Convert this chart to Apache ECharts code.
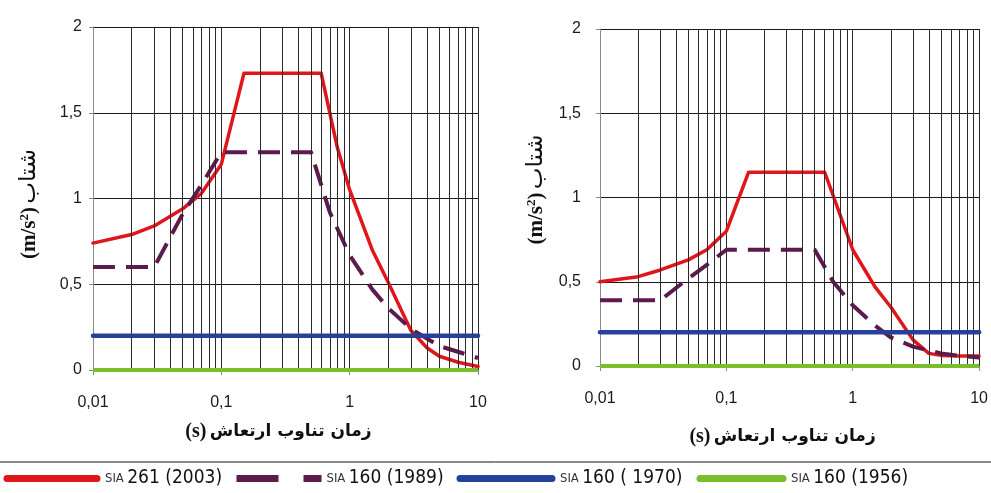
<!DOCTYPE html>
<html><head><meta charset="utf-8">
<script src="https://cdn.jsdelivr.net/npm/echarts@6/dist/echarts.min.js"></script>
<style>html,body{margin:0;padding:0;background:#fff}#c{width:991px;height:493px}</style>
</head><body><div id="c"></div>
<script>
// ---------- data ----------
const seriesNames = ['SIA 261 (2003)', 'SIA 160 (1989)', 'SIA 160 ( 1970)', 'SIA 160 (1956)'];
const xTickValues = [0.01, 0.1, 1, 10];
const xTickLabels = ['0,01', '0,1', '1', '10'];
const yTickValues = [0, 0.5, 1, 1.5, 2];
const yTickLabels = ['0', '0,5', '1', '1,5', '2'];
const minorPeriods = [0.02,0.03,0.04,0.05,0.06,0.07,0.08,0.09,0.2,0.3,0.4,0.5,0.6,0.7,0.8,0.9,2,3,4,5,6,7,8,9];

// left panel
const leftT2003 = [0.01, 0.02, 0.03, 0.05, 0.07, 0.1, 0.15, 0.6, 0.8, 1, 1.5, 2, 3, 4, 5, 7, 10];
const leftA2003 = [0.74, 0.79, 0.84, 0.94, 1.03, 1.20, 1.73, 1.73, 1.30, 1.05, 0.70, 0.51, 0.23, 0.13, 0.08, 0.045, 0.02];
const leftT1989 = [0.01, 0.03, 0.05, 0.07, 0.1, 0.5, 0.7, 1, 1.5, 2, 3, 5, 10];
const leftA1989 = [0.60, 0.60, 0.91, 1.08, 1.27, 1.27, 0.92, 0.67, 0.47, 0.36, 0.24, 0.14, 0.07];
const leftT1970 = [0.01, 10];
const leftA1970 = [0.2, 0.2];
const leftT1956 = [0.01, 10];
const leftA1956 = [0, 0];

// right panel
const rightT2003 = [0.01, 0.02, 0.03, 0.05, 0.07, 0.1, 0.15, 0.6, 1, 1.5, 2, 3, 4, 5, 7, 10];
const rightA2003 = [0.50, 0.53, 0.57, 0.63, 0.69, 0.80, 1.15, 1.15, 0.69, 0.47, 0.35, 0.155, 0.075, 0.063, 0.06, 0.06];
const rightT1989 = [0.01, 0.03, 0.05, 0.07, 0.1, 0.5, 0.7, 1, 1.5, 2, 3, 5, 7, 10];
const rightA1989 = [0.39, 0.39, 0.52, 0.60, 0.69, 0.69, 0.50, 0.36, 0.24, 0.17, 0.115, 0.075, 0.06, 0.05];
const rightT1970 = [0.01, 10];
const rightA1970 = [0.2, 0.2];
const rightT1956 = [0.01, 10];
const rightA1956 = [0, 0];

// ---------- helpers ----------
const pairs = (t, a) => t.map((v, i) => [v, a[i]]);
const lg = v => Math.log10(Math.max(v, 1e-9));
const nearestLabel = (vals, labels) => v => {
  let best = 0;
  vals.forEach((x, i) => { if (Math.abs(lg(x) - lg(v)) < Math.abs(lg(vals[best]) - lg(v))) best = i; });
  return labels[best];
};
const yFmt = v => { const i = yTickValues.findIndex(x => Math.abs(x - v) < 1e-6); return i >= 0 ? yTickLabels[i] : ''; };

const colors = ['#e1161c', '#5f1a4d', '#26419a', '#7cbd2b'];
const lineStyles = [
  { color: colors[0], width: 3.5, cap: 'round', join: 'round' },
  { color: colors[1], width: 4, type: [22, 11], cap: 'butt', join: 'round' },
  { color: colors[2], width: 4.5, cap: 'round' },
  { color: colors[3], width: 4, cap: 'butt' }
];

const panels = [
  { data: [pairs(leftT2003, leftA2003), pairs(leftT1989, leftA1989), pairs(leftT1970, leftA1970), pairs(leftT1956, leftA1956)],
    grid: { left: 93, right: 513, top: 27, bottom: 123 }, yMargin: 11, xNameGap: 52, yNamePad: [0, 11, 0, 0] },
  { data: [pairs(rightT2003, rightA2003), pairs(rightT1989, rightA1989), pairs(rightT1970, rightA1970), pairs(rightT1956, rightA1956)],
    grid: { left: 600, right: 7, top: 29, bottom: 127 }, yMargin: 19, xNameGap: 61, yNamePad: [0, 0, 0, 16] }
];

const grids = [], xAxes = [], yAxes = [], series = [];
panels.forEach((p, k) => {
  grids.push(p.grid);
  xAxes.push({
    type: 'log', logBase: 10, min: 0.01, max: 10, gridIndex: k,
    axisLine: { show: true, onZero: false, lineStyle: { color: '#8a8a8a', width: 1 } },
    axisTick: { show: true, length: 5, lineStyle: { color: '#8a8a8a' } },
    axisLabel: { formatter: nearestLabel(xTickValues, xTickLabels), margin: 25, color: '#1a1a1a',
      fontFamily: 'Liberation Sans, Arial, sans-serif', fontSize: 16 },
    splitLine: { show: true, lineStyle: { color: '#2a2a2a', width: 1 } },
    name: '{a|(s)} {b|زمان تناوب ارتعاش}', nameLocation: 'middle', nameGap: p.xNameGap,
    nameTextStyle: { padding: [0, 14, 0, 0], rich: {
      a: { fontFamily: 'Liberation Serif, serif', fontWeight: 'bold', fontSize: 20, color: '#111' },
      b: { fontFamily: 'DejaVu Sans, sans-serif', fontWeight: 'bold', fontSize: 17, color: '#111' } } }
  });
  yAxes.push({
    type: 'value', min: 0, max: 2, interval: 0.5, gridIndex: k,
    axisLine: { show: true, lineStyle: { color: '#8a8a8a', width: 1 } },
    axisTick: { show: true, length: 4, lineStyle: { color: '#8a8a8a' } },
    axisLabel: { formatter: yFmt, margin: p.yMargin, color: '#1a1a1a',
      fontFamily: 'Liberation Sans, Arial, sans-serif', fontSize: 16 },
    splitLine: { show: true, lineStyle: { color: '#1a1a1a', width: 1 } },
    name: '{a|(m/s}{sup|2}{a|)} {b|شتاب}', nameLocation: 'middle', nameGap: 52,
    nameTextStyle: { padding: p.yNamePad, rich: {
      a: { fontFamily: 'Liberation Serif, serif', fontWeight: 'bold', fontSize: 21, color: '#111' },
      sup: { fontFamily: 'Liberation Serif, serif', fontWeight: 'bold', fontSize: 13, color: '#111', verticalAlign: 'top' },
      b: { fontFamily: 'DejaVu Sans, sans-serif', fontSize: 23, color: '#111' } } }
  });
  // minor vertical grid lines
  series.push({
    type: 'line', xAxisIndex: k, yAxisIndex: k, data: [], silent: true, z: 1,
    markLine: { silent: true, symbol: ['none', 'none'], label: { show: false },
      lineStyle: { color: '#2a2a2a', width: 1, type: 'solid' }, animation: false,
      emphasis: { disabled: true },
      data: minorPeriods.map(v => ({ xAxis: v })) }
  });
  p.data.forEach((d, i) => {
    series.push({
      name: seriesNames[i], type: 'line', xAxisIndex: k, yAxisIndex: k, data: d,
      showSymbol: false, symbol: 'none', z: 3 + i, lineStyle: lineStyles[i], itemStyle: { color: colors[i] },
      emphasis: { disabled: true }
    });
  });
});

const legendRich = {
  s: { fontFamily: 'Liberation Sans Narrow, DejaVu Sans Condensed, Liberation Sans, sans-serif', fontSize: 13, color: '#333' },
  n: { fontFamily: 'Liberation Sans Narrow, DejaVu Sans Condensed, Liberation Sans, sans-serif', fontSize: 19, color: '#111' }
};
const legendFmt = name => { const j = name.indexOf(' '); return '{s|' + name.slice(0, j) + '} {n|' + name.slice(j + 1) + '}'; };
const legendSpecs = [
  { left: 3.5, width: 90, ls: { width: 7, cap: 'round', type: 'solid' } },
  { left: 233, width: 85, ls: { width: 7, cap: 'butt', type: [42, 25] } },
  { left: 456.5, width: 92, ls: { width: 7, cap: 'round', type: 'solid' } },
  { left: 696.5, width: 83, ls: { width: 7, cap: 'round', type: 'solid' } }
];
const legends = legendSpecs.map((s, i) => ({
  data: [seriesNames[i]], left: s.left, top: 469, itemWidth: s.width, itemHeight: 7, padding: 0,
  selectedMode: false, formatter: legendFmt, lineStyle: s.ls, itemStyle: { opacity: 0 },
  textStyle: { rich: legendRich, padding: [0, 0, 0, i === 1 ? 0 : 3] }
}));

const chart = echarts.init(document.getElementById('c'), null, { renderer: 'canvas' });
chart.setOption({
  animation: false,
  backgroundColor: '#ffffff',
  grid: grids, xAxis: xAxes, yAxis: yAxes, series: series, legend: legends,
  graphic: [{ type: 'line', shape: { x1: 0, y1: 462, x2: 991, y2: 462 }, style: { stroke: '#111', lineWidth: 1 } }]
});
</script></body></html>
